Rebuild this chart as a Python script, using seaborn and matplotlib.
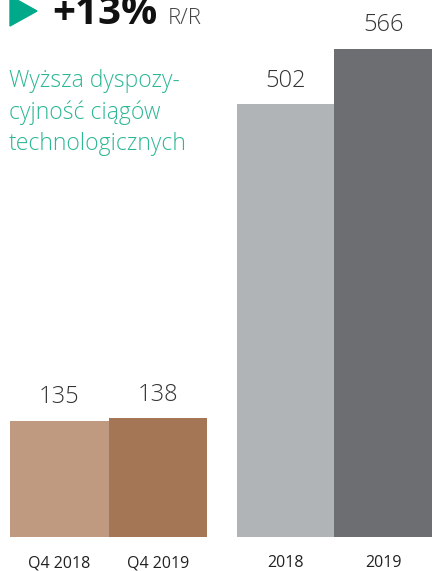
import matplotlib
matplotlib.use("Agg")
import matplotlib.pyplot as plt
from matplotlib.patches import Polygon
import seaborn as sns

# data
quarters = ["Q4 2018", "Q4 2019"]
quarter_vals = [135, 138]
years = ["2018", "2019"]
year_vals = [502, 566]

headline = "+13%"
headline_unit = "R/R"
subtitle = "Wyższa dyspozy-\ncyjność ciągów\ntechnologicznych"

quarter_colors = ["#bf9a80", "#a47656"]
year_colors = ["#b1b4b6", "#6d6e71"]

sns.set_theme(style="white")
plt.rcParams["font.family"] = ["Open Sans", "DejaVu Sans"]

fig = plt.figure(figsize=(4.32, 5.71), dpi=100)
W, H = 432, 571
base = 34 / H
ymax = 537 / 0.8625

ax1 = fig.add_axes([10 / W, base, 197 / W, 1 - base])
ax2 = fig.add_axes([236.7 / W, base, (W - 236.7) / W, 1 - base])

sns.barplot(x=quarters, y=quarter_vals, hue=quarters, palette=quarter_colors,
            width=1, legend=False, ax=ax1, saturation=1, linewidth=0)
sns.barplot(x=years, y=year_vals, hue=years, palette=year_colors,
            width=1, legend=False, ax=ax2, saturation=1, linewidth=0)

for ax in (ax1, ax2):
    ax.set_xlim(-0.5, 1.5)
    ax.set_ylim(0, ymax)
    ax.set_yticks([])
    ax.set_xlabel("")
    ax.set_ylabel("")
    sns.despine(ax=ax, left=True, bottom=True)
    ax.patch.set_alpha(0)
    ax.tick_params(axis="x", length=0, pad=13, labelsize=11.5, labelcolor="#222222")
    for p in ax.patches:
        ax.annotate(f"{p.get_height():.0f}",
                    (p.get_x() + p.get_width() / 2, p.get_height()),
                    xytext=(0, 12.5), textcoords="offset points",
                    ha="center", va="baseline", fontsize=17, color="#333333",
                    fontweight="light")

# headline
tri = Polygon([[10 / W, 1 + 4 / H], [37 / W, 1 - 11 / H], [10 / W, 1 - 26 / H]],
              closed=True, transform=fig.transFigure, color="#00a98a")
fig.patches.append(tri)
fig.text(52 / W, 1 - 24 / H, headline, fontsize=29, fontweight="bold",
         color="#111111", va="baseline", ha="left")
fig.text(168 / W, 1 - 24 / H, headline_unit, fontsize=16, color="#444444",
         va="baseline", ha="left", fontweight="light")

fig.text(9 / W, 1 - 150 / H, subtitle, fontsize=16.5, color="#2cb795",
         va="baseline", ha="left", linespacing=1.4, fontweight="light")

fig.savefig("out.png", dpi=100)
